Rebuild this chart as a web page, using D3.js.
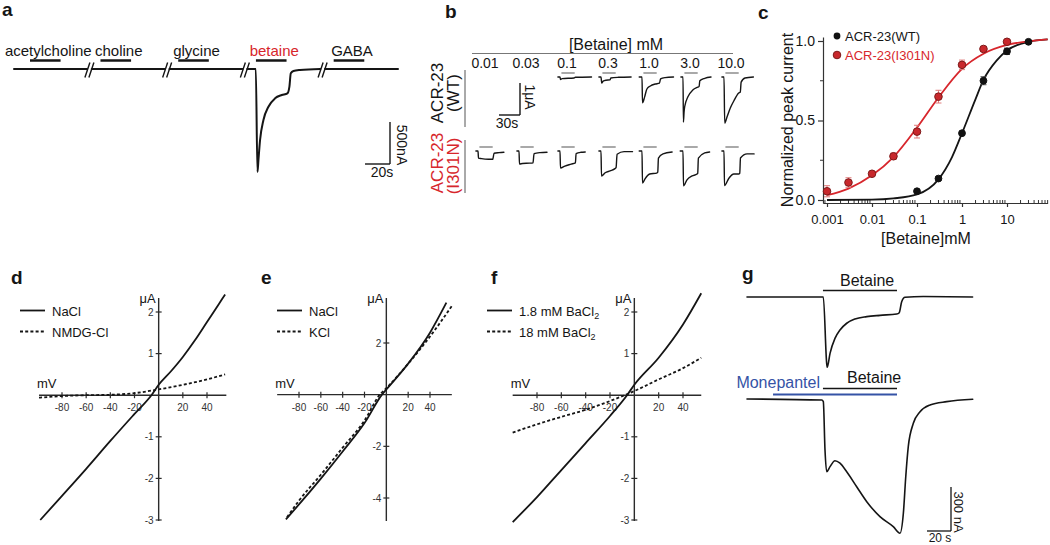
<!DOCTYPE html>
<html>
<head>
<meta charset="utf-8">
<title>ACR-23 betaine responses</title>
<script src="https://d3js.org/d3.v7.min.js"></script>
<style>
  body { margin: 0; background: #fff; }
  svg { display: block; font-family: Arial, "Liberation Sans", sans-serif; }
  .trace { fill: none; stroke: #151515; stroke-linejoin: round; stroke-linecap: round; }
</style>
</head>
<body>
<div id="fig"></div>
<script>
// ---------- panel a: one sweep per compound (time s, current nA)
const aCompounds = ["acetylcholine", "choline", "glycine", "betaine", "GABA"];
const aPulseStart = [12.8, 7, 7, 7, 7];
const aPulseLen = 24.5;
const aQuiet = [[0, 0], [58.5, 0]];
const aBetaine = [[0, 0], [6.9, 0], [8.2, -1226], [9.0, -1083], [10.3, -845], [13.0, -607], [17.0, -449],
  [22.3, -349], [27.7, -310], [32.2, -290], [33.8, -210], [34.9, -51], [37.0, -24], [42.3, -12], [58.5, 0]];

// ---------- panel b: traces per concentration (time s, current uA)
const bConc = ["0.01", "0.03", "0.1", "0.3", "1.0", "3.0", "10.0"];
const bWT = [
  null, null,
  [[-3, 0], [0, 0], [0.7, -0.08], [3, -0.05], [20, -0.03], [22, -0.01], [45, 0]],
  [[-3, 0], [0, 0], [1, -0.19], [3, -0.13], [7, -0.1], [13, -0.09], [14, -0.03], [25, -0.01], [43, 0]],
  [[-4, 0], [0, 0], [0.7, -0.81], [3.8, -0.62], [7, -0.375], [12, -0.28], [19, -0.22], [25, -0.19], [26.5, -0.06], [33, -0.02], [45, 0]],
  [[-3, 0], [0, 0], [0.6, -1.41], [1.5, -1.1], [2.4, -0.93], [7, -0.62], [14, -0.41], [21, -0.32], [23, -0.3], [24, -0.12], [31, -0.04], [40, 0]],
  [[-3, 0], [0, 0], [1, -1.44], [4.3, -1.25], [9, -0.97], [14, -0.75], [21, -0.5], [23.3, -0.47], [24.5, -0.16], [30, -0.03], [42, 0]]
];
const bMut = [
  [[-3, 0], [0, 0], [0.7, -0.22], [5, -0.24], [15, -0.26], [21, -0.26], [23, -0.07], [30, -0.05], [37, -0.04]],
  [[-3, 0], [0, 0], [0.7, -0.41], [5, -0.39], [15, -0.38], [20, -0.37], [21.5, -0.08], [30, -0.05], [40, -0.04]],
  [[-3, 0], [0, 0], [0.7, -0.53], [7, -0.47], [16, -0.41], [22, -0.37], [23, -0.08], [30, -0.04], [36, -0.03]],
  [[-3, 0], [0, 0], [0.7, -0.78], [6, -0.68], [13, -0.62], [20, -0.55], [21.5, -0.52], [23, -0.1], [33, -0.02], [45, -0.02]],
  [[-4, 0], [0, 0], [0.7, -1.0], [4.3, -0.87], [11, -0.72], [21, -0.69], [22.5, -0.66], [23.5, -0.22], [30, -0.09], [43, -0.03]],
  [[-4, 0], [0, 0], [0.7, -1.09], [5.7, -0.9], [13, -0.78], [20, -0.72], [21, -0.7], [22, -0.22], [31, -0.06], [38, -0.03]],
  [[-3, 0], [0, 0], [0.7, -1.08], [7, -0.85], [14, -0.72], [21, -0.72], [22.5, -0.7], [23.5, -0.22], [33, -0.09], [43, -0.09]]
];
const bPulse = [2, 21];

// ---------- panel c: dose response
const cConc = [0.001, 0.003, 0.01, 0.03, 0.1, 0.3, 1, 3, 10, 30];
const cWT = [null, null, null, null, 0.055, 0.135, 0.42, 0.75, 0.935, 0.995];
const cWTerr = [null, null, null, null, 0.008, 0.01, 0.01, 0.025, 0.02, 0.008];
const cMut = [0.055, 0.11, 0.165, 0.275, 0.43, 0.65, 0.85, 0.95, 0.995, null];
const cMutErr = [0.035, 0.03, 0.012, 0.02, 0.04, 0.04, 0.03, 0.015, 0.01, null];
const cFitWT = [[0.001, 0], [0.01, 0.002], [0.03, 0.01], [0.1, 0.035], [0.3, 0.13], [0.6, 0.27], [1, 0.42],
  [2, 0.635], [3, 0.755], [6, 0.88], [10, 0.94], [30, 0.995], [80, 1.01]];
const cFitMut = [[0.001, 0.03], [0.003, 0.072], [0.01, 0.155], [0.03, 0.27], [0.1, 0.455], [0.3, 0.645],
  [1, 0.825], [3, 0.92], [10, 0.975], [30, 0.998], [80, 1.01]];
const cMajor = [0.001, 0.01, 0.1, 1, 10];

// ---------- panels d-f: I-V curves (mV, uA)
const ivXTicks = [-80, -60, -40, -20, 20, 40];
const dNaCl = [[-98, -3.0], [-80, -2.42], [-60, -1.77], [-40, -1.1], [-20, -0.45], [-6, 0], [0, 0.25], [10, 0.57], [20, 0.92], [30, 1.32], [40, 1.76], [50, 2.2], [55, 2.42]];
const dNMDG = [[-99, -0.06], [-80, -0.02], [-60, 0], [-40, 0.01], [-20, 0.05], [0, 0.14], [20, 0.25], [40, 0.38], [55, 0.5]];
const eNaCl = [[-92, -4.83], [-80, -4.25], [-60, -3.25], [-40, -2.2], [-20, -1.1], [-4, 0], [0, 0.2], [20, 1.2], [40, 2.4], [55, 3.56]];
const eKCl = [[-91, -4.75], [-80, -4.1], [-60, -3.1], [-40, -2.05], [-20, -1.0], [-6, 0], [0, 0.25], [20, 1.2], [40, 2.25], [60, 3.43]];
const fBa18 = [[-100, -3.05], [-80, -2.45], [-60, -1.8], [-40, -1.15], [-20, -0.5], [-6, 0], [0, 0.25], [20, 0.9], [40, 1.7], [55, 2.45]];
const fBa180 = [[-100, -0.9], [-80, -0.7], [-60, -0.52], [-40, -0.35], [-20, -0.14], [-8, 0], [0, 0.1], [20, 0.38], [40, 0.65], [55, 0.9]];

// ---------- panel g: betaine with / without monepantel (time s, current nA)
const gControl = [[0, 0], [63.6, 0], [66.4, -452], [66.9, -479], [69.2, -384], [73.3, -282], [77.5, -225], [83.1, -179],
  [90, -150], [99.8, -134], [110.8, -125], [124.8, -116], [126.9, -107], [128.9, -32], [131.7, -2], [146.9, 3], [188, 0]];
const gMonepantel = [[0, 0], [62.3, -7], [63.6, -18], [65, -348], [66.4, -496], [69.2, -461], [73.3, -421], [77.5, -438],
  [83.1, -496], [91.4, -598], [99.8, -700], [110.8, -802], [121.9, -870], [127.5, -915], [130.3, -779], [132.3, -530],
  [134.4, -325], [138.6, -166], [144.2, -87], [152.5, -41], [166.4, -18], [188.1, -2]];
const gBetainePulse = [63.3, 125];
const gMonepantelPulse = [21.7, 125];

const RED = "#d7262c", BLUE = "#3553a6", INK = "#151515";

const svg = d3.select("#fig").append("svg").attr("width", 1050).attr("height", 545);
svg.append("rect").attr("width", 1050).attr("height", 545).attr("fill", "#fff");

function text(g, x, y, str, o = {}) {
  return g.append("text")
    .attr("transform", `translate(${x},${y})` + (o.rotate ? ` rotate(${o.rotate})` : ""))
    .attr("font-size", o.size || 14)
    .attr("font-weight", o.weight || "normal")
    .attr("fill", o.fill || INK)
    .attr("text-anchor", o.anchor || "start")
    .text(str);
}
function hline(g, x1, x2, y, w, col) {
  g.append("line").attr("x1", x1).attr("x2", x2).attr("y1", y).attr("y2", y)
    .attr("stroke", col || INK).attr("stroke-width", w || 1.5);
}
function vline(g, x, y1, y2, w, col) {
  g.append("line").attr("x1", x).attr("x2", x).attr("y1", y1).attr("y2", y2)
    .attr("stroke", col || INK).attr("stroke-width", w || 1.5);
}

// panel letters
[["a", 2, 16], ["b", 445, 18], ["c", 758, 19], ["d", 11, 284], ["e", 261, 284], ["f", 491, 284], ["g", 742, 280]]
  .forEach(([s, x, y]) => text(svg, x, y, s, { size: 19, weight: "bold" }));

// ================= a =================
const ga = svg.append("g");
const aSeg = d3.scaleBand().domain(aCompounds).range([14, 398]).paddingInner(0.06);
const aT = d3.scaleLinear().domain([0, 58.5]).range([0, aSeg.bandwidth()]);
const aY = d3.scaleLinear().domain([0, -500]).range([69, 111]);

aCompounds.forEach((c, i) => {
  const x0 = aSeg(c);
  const pts = c === "betaine" ? aBetaine : aQuiet;
  ga.append("path").attr("class", "trace").attr("stroke-width", 2)
    .attr("d", d3.line().x(d => x0 + aT(d[0])).y(d => aY(d[1])).curve(d3.curveMonotoneX)(pts));
  const p0 = x0 + aT(aPulseStart[i]), p1 = x0 + aT(aPulseStart[i] + aPulseLen);
  hline(ga, p0, p1, 60.5, 2.5);
  text(ga, (p0 + p1) / 2 + 3, 56, c, { size: 15, anchor: "middle", fill: c === "betaine" ? RED : INK });
});
// break marks between sweeps
aCompounds.slice(1).forEach(c => {
  const xb = aSeg(c) - aSeg.step() * aSeg.paddingInner() / 2;
  [-2, 2].forEach(o => {
    ga.append("line").attr("x1", xb + o - 2.5).attr("y1", 77.5).attr("x2", xb + o + 2.5).attr("y2", 62.5)
      .attr("stroke", INK).attr("stroke-width", 1.4);
  });
});
// scale bar (20 s, 500 nA)
const aBarY = 164;
hline(ga, 390 - aT(20), 390, aBarY, 1.4);
vline(ga, 390, aBarY - (aY(-500) - aY(0)), aBarY, 1.4);
text(ga, 382, 177, "20s", { size: 14, anchor: "middle" });
text(ga, 397, 145, "500nA", { size: 14, anchor: "middle", rotate: 90 });

// ================= b =================
const gb = svg.append("g");
const bCol = d3.scalePoint().domain(bConc).range([478, 724]);
const bT = d3.scaleLinear().domain([0, 30]).range([0, 21]);
const bI = d3.scaleLinear().domain([0, -1]).range([0, 32]);
const bRows = [{ data: bWT, base: 77 }, { data: bMut, base: 151 }];

text(gb, 616, 50, "[Betaine] mM", { size: 16, anchor: "middle" });
hline(gb, 472, 733, 53.5, 1.2, "#777");
bConc.forEach(c => text(gb, bCol(c) + 7, 68, c, { size: 14, anchor: "middle" }));

bRows.forEach(row => {
  row.data.forEach((pts, i) => {
    if (!pts) return;
    const x0 = bCol(bConc[i]);
    gb.append("path").attr("class", "trace").attr("stroke-width", 1.4)
      .attr("d", d3.line().x(d => x0 + bT(d[0])).y(d => row.base + bI(d[1])).curve(d3.curveMonotoneX)(pts));
    hline(gb, x0 + bT(bPulse[0]), x0 + bT(bPulse[1]), row.base - 4, 1.5, "#8c8c8c");
  });
});
// row labels
vline(gb, 465, 70, 127, 1, "#555");
vline(gb, 465, 140, 193, 1, "#555");
text(gb, 443, 93, "ACR-23", { size: 17, anchor: "middle", rotate: -90 });
text(gb, 459, 93, "(WT)", { size: 17, anchor: "middle", rotate: -90 });
text(gb, 443, 163, "ACR-23", { size: 17, anchor: "middle", rotate: -90, fill: RED });
text(gb, 459, 166, "(I301N)", { size: 17, anchor: "middle", rotate: -90, fill: RED });
// scale bar (30 s, 1 uA)
hline(gb, 520 - bT(30), 520, 115, 1.4);
vline(gb, 520, 115 - bI(-1), 115, 1.4);
text(gb, 507, 128, "30s", { size: 14, anchor: "middle" });
text(gb, 525, 97, "1μA", { size: 14, anchor: "middle", rotate: 90 });

// ================= c =================
const gc = svg.append("g");
const cx = d3.scaleLog().domain([0.001, 10]).range([827, 1007]);
const cy = d3.scaleLinear().domain([0, 1]).range([200, 41]);
const cxAxis = cx.copy().domain([0.00081, 80]).range([cx(0.00081), cx(80)]);
const cyAxis = cy.copy().domain([cy.invert(203), cy.invert(37)]).range([203, 37]);

const xg = gc.append("g").attr("transform", "translate(0,203)")
  .call(d3.axisBottom(cxAxis).tickValues(cMajor).tickFormat(d => d).tickSize(4).tickSizeOuter(0));
xg.selectAll("text").attr("font-size", 13).attr("fill", INK).attr("y", 12);
xg.selectAll("line,path").attr("stroke", "#333").attr("stroke-width", 1.2);
const minor = cxAxis.ticks().filter(v => Math.abs(Math.log10(v) - Math.round(Math.log10(v))) > 1e-6);
xg.selectAll(".minor").data(minor).join("line").attr("class", "minor")
  .attr("x1", d => cxAxis(d)).attr("x2", d => cxAxis(d)).attr("y1", 0).attr("y2", -3)
  .attr("stroke", "#333").attr("stroke-width", 1);
xg.attr("font-family", null);

const yg = gc.append("g").attr("transform", "translate(823,0)")
  .call(d3.axisLeft(cyAxis).tickValues([0, 0.5, 1]).tickFormat(d3.format(".1f")).tickSize(5).tickPadding(3).tickSizeOuter(0));
yg.selectAll("text").attr("font-size", 14).attr("fill", INK);
yg.selectAll("line,path").attr("stroke", "#333").attr("stroke-width", 1.2);
yg.selectAll(".minor").data([0.25, 0.75]).join("line").attr("class", "minor")
  .attr("x1", 0).attr("x2", -3).attr("y1", d => cyAxis(d)).attr("y2", d => cyAxis(d))
  .attr("stroke", "#333").attr("stroke-width", 1);
yg.attr("font-family", null);

text(gc, 793, 120, "Normalized peak current", { size: 16, anchor: "middle", rotate: -90 });
text(gc, 926, 244, "[Betaine]mM", { size: 16, anchor: "middle" });

const cLine = d3.line().x(d => cx(d[0])).y(d => cy(d[1])).curve(d3.curveMonotoneX);
gc.append("path").attr("d", cLine(cFitWT)).attr("fill", "none").attr("stroke", INK).attr("stroke-width", 1.8);
gc.append("path").attr("d", cLine(cFitMut)).attr("fill", "none").attr("stroke", RED).attr("stroke-width", 1.8);

function cSeries(vals, errs, errCol, fill, stroke, r) {
  const pts = cConc.map((c, i) => ({ c, v: vals[i], e: errs[i] })).filter(d => d.v != null);
  pts.forEach(d => {
    const x = cx(d.c);
    vline(gc, x, cy(d.v - d.e), cy(d.v + d.e), 1, errCol);
    hline(gc, x - 3, x + 3, cy(d.v - d.e), 1, errCol);
    hline(gc, x - 3, x + 3, cy(d.v + d.e), 1, errCol);
  });
  gc.selectAll(null).data(pts).join("circle")
    .attr("cx", d => cx(d.c)).attr("cy", d => cy(d.v)).attr("r", r)
    .attr("fill", fill).attr("stroke", stroke).attr("stroke-width", 1);
}
cSeries(cMut, cMutErr, "#e07a7a", "#c8282c", "#7d1a1a", 3.8);
cSeries(cWT, cWTerr, "#444", "#111", "#111", 3.4);

// legend
gc.append("circle").attr("cx", 837).attr("cy", 36).attr("r", 3.4).attr("fill", "#111");
gc.append("circle").attr("cx", 837).attr("cy", 55).attr("r", 3.8).attr("fill", "#c8282c").attr("stroke", "#7d1a1a");
text(gc, 845, 41, "ACR-23(WT)", { size: 13 });
text(gc, 845, 60, "ACR-23(I301N)", { size: 13, fill: RED });

// ================= d, e, f =================
function ivPanel(o) {
  const g = svg.append("g");
  const x = d3.scaleLinear().domain([-80, 40]).range(o.xr);
  const y = d3.scaleLinear().domain(o.yd).range(o.yr);
  const ax = "#2b2b2b";
  const x0 = x(0), y0 = y(0);
  hline(g, x(o.xLim[0]), x(o.xLim[1]), y0, 1.4, ax);
  vline(g, x0, 298, 521, 1.4, ax);
  g.selectAll(".xt").data(ivXTicks).join("line").attr("class", "xt")
    .attr("x1", d => x(d)).attr("x2", d => x(d)).attr("y1", y0 - 3).attr("y2", y0 + 3)
    .attr("stroke", ax).attr("stroke-width", 1.2);
  g.selectAll(".xl").data(ivXTicks).join("text").attr("class", "xl")
    .attr("x", d => x(d)).attr("y", y0 + 16).attr("text-anchor", "middle")
    .attr("font-size", 10).attr("fill", "#333").text(d => d);
  g.selectAll(".yt").data(o.yTicks).join("line").attr("class", "yt")
    .attr("x1", x0 - 3).attr("x2", x0 + 3).attr("y1", d => y(d)).attr("y2", d => y(d))
    .attr("stroke", ax).attr("stroke-width", 1.2);
  g.selectAll(".yl").data(o.yTicks).join("text").attr("class", "yl")
    .attr("x", x0 - 5).attr("y", d => y(d) + 3.5).attr("text-anchor", "end")
    .attr("font-size", 10).attr("fill", "#333").text(d => d);
  text(g, x0 - 3, 303, "μA", { size: 13, anchor: "end" });
  text(g, x(o.xLim[0]) - 2, y0 - 7, "mV", { size: 13 });

  const line = d3.line().x(d => x(d[0])).y(d => y(d[1])).curve(d3.curveMonotoneX);
  g.append("path").attr("d", line(o.solid)).attr("fill", "none").attr("stroke", INK).attr("stroke-width", 1.8);
  g.append("path").attr("d", line(o.dashed)).attr("fill", "none").attr("stroke", INK).attr("stroke-width", 1.8)
    .attr("stroke-dasharray", "3,2.2");

  // legend
  hline(g, o.leg[0], o.leg[0] + 25, 310.5, 1.8);
  g.append("line").attr("x1", o.leg[0]).attr("x2", o.leg[0] + 25).attr("y1", 331.5).attr("y2", 331.5)
    .attr("stroke", INK).attr("stroke-width", 1.8).attr("stroke-dasharray", "3,2.2");
  o.names.forEach((n, i) => {
    const t = g.append("text").attr("x", o.leg[0] + 32).attr("y", 315.5 + i * 21).attr("font-size", 13).attr("fill", INK);
    t.append("tspan").text(n[0]);
    if (n[1]) t.append("tspan").attr("font-size", 9).attr("dy", 3).text(n[1]);
  });
}
ivPanel({ xr: [62, 207], yd: [-3, 2], yr: [520, 312], xLim: [-99, 56], yTicks: [-3, -2, -1, 1, 2],
  solid: dNaCl, dashed: dNMDG, leg: [20], names: [["NaCl"], ["NMDG-Cl"]] });
ivPanel({ xr: [299, 430], yd: [-4, 2], yr: [498, 343], xLim: [-100, 60], yTicks: [-4, -2, 2],
  solid: eNaCl, dashed: eKCl, leg: [277], names: [["NaCl"], ["KCl"]] });
ivPanel({ xr: [537, 683], yd: [-3, 2], yr: [520, 312], xLim: [-100, 55], yTicks: [-3, -2, -1, 1, 2],
  solid: fBa18, dashed: fBa180, leg: [487], names: [["1.8 mM BaCl", "2"], ["18 mM BaCl", "2"]] });

// ================= g =================
const gg = svg.append("g");
const gT = d3.scaleLinear().domain([0, 20]).range([747, 771]);
const gTop = d3.scaleLinear().domain([0, -300]).range([297, 341]);
const gBot = d3.scaleLinear().domain([0, -300]).range([399, 443]);
const gLine = ys => d3.line().x(d => gT(d[0])).y(d => ys(d[1])).curve(d3.curveMonotoneX);
gg.append("path").attr("class", "trace").attr("stroke-width", 1.6).attr("d", gLine(gTop)(gControl));
gg.append("path").attr("class", "trace").attr("stroke-width", 1.6).attr("d", gLine(gBot)(gMonepantel));

hline(gg, gT(gBetainePulse[0]), gT(gBetainePulse[1]), 290.5, 1.5);
text(gg, 840, 286, "Betaine", { size: 16 });
hline(gg, gT(gBetainePulse[0]), gT(gBetainePulse[1]), 388.5, 1.5);
text(gg, 847, 383, "Betaine", { size: 16 });
hline(gg, gT(gMonepantelPulse[0]), gT(gMonepantelPulse[1]), 394.5, 1.8, BLUE);
text(gg, 820, 388, "Monepantel", { size: 16, anchor: "end", fill: BLUE });

// scale bar (20 s, 300 nA)
hline(gg, 951 - (gT(20) - gT(0)), 951, 531, 1.3);
vline(gg, 951, 531 - (gBot(-300) - gBot(0)), 531, 1.3);
text(gg, 940, 542, "20 s", { size: 12, anchor: "middle" });
text(gg, 954, 512, "300 nA", { size: 13, anchor: "middle", rotate: 90 });
</script>
</body>
</html>
